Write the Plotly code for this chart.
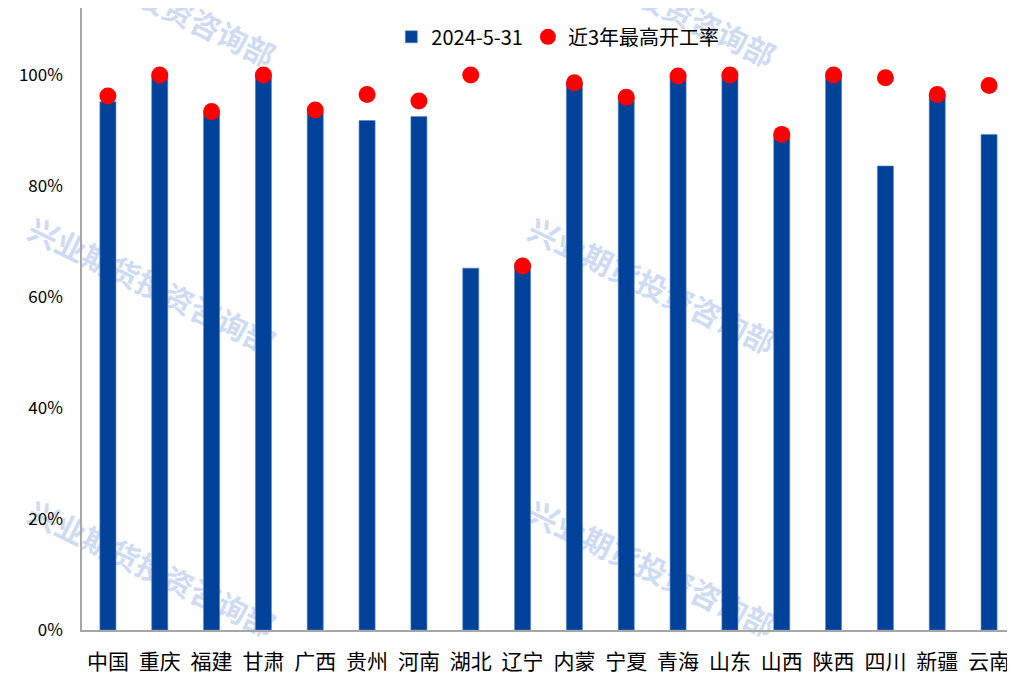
import plotly.graph_objects as go

categories = ["中国", "重庆", "福建", "甘肃", "广西", "贵州", "河南", "湖北", "辽宁",
              "内蒙", "宁夏", "青海", "山东", "山西", "陕西", "四川", "新疆", "云南"]
rate_2024_05_31 = [0.952, 1.000, 0.932, 1.000, 0.935, 0.918, 0.925, 0.652, 0.658,
                   0.985, 0.959, 0.998, 1.000, 0.892, 1.000, 0.836, 0.964, 0.893]
max_3y = [0.962, 1.000, 0.934, 1.000, 0.937, 0.965, 0.953, 1.000, 0.656,
          0.986, 0.960, 0.998, 1.000, 0.893, 1.000, 0.995, 0.965, 0.981]
y_ticks = [0, 0.2, 0.4, 0.6, 0.8, 1.0]
y_tick_labels = ["0%", "20%", "40%", "60%", "80%", "100%"]
series_names = ["2024-5-31", "近3年最高开工率"]
watermark = "兴业期货投资咨询部"
wm_x = [0.073, 0.609]
wm_y = [1.0096, 0.548, 0.093]

FONT = "Noto Sans CJK SC, Noto Sans, sans-serif"

fig = go.Figure()
fig.add_trace(go.Bar(
    x=categories, y=rate_2024_05_31, name=series_names[0],
    marker=dict(color="#00419A", line=dict(color="#5A86C8", width=0.6)),
    width=0.31,
))
fig.add_trace(go.Scatter(
    x=categories, y=max_3y, name=series_names[1], mode="markers",
    marker=dict(color="#FF0000", size=17),
))

shapes = []
for xc in wm_x:
    for yc in wm_y:
        shapes.append(dict(
            type="rect", xref="paper", yref="paper",
            x0=xc - 0.01, x1=xc + 0.01, y0=yc - 0.01, y1=yc + 0.01,
            line=dict(width=0), fillcolor="rgba(0,0,0,0)", layer="below",
            label=dict(text=watermark, textangle=26, textposition="middle center",
                       font=dict(family=FONT, size=30, color="rgba(190,208,238,0.75)",
                                 weight="bold")),
        ))

fig.update_layout(
    width=1007, height=667,
    margin=dict(l=74, r=0, t=0, b=45),
    paper_bgcolor="white", plot_bgcolor="white",
    font=dict(family=FONT, color="#000000"),
    showlegend=True,
    legend=dict(orientation="h", x=0.51, xanchor="center", y=0.985, yanchor="top",
                font=dict(size=20, family=FONT), bgcolor="rgba(0,0,0,0)",
                itemwidth=30, traceorder="normal"),
    shapes=shapes,
    bargap=0.69,
)
fig.update_xaxes(
    showline=True, linecolor="#A6A6A6", linewidth=1.5, ticks="",
    tickfont=dict(size=21, family=FONT), showgrid=False,
    range=[-0.5, len(categories) - 0.5],
    ticklabelstandoff=12, automargin=False,
)
fig.update_yaxes(
    range=[0, 1.1207], tickvals=y_ticks, ticktext=y_tick_labels,
    showline=True, linecolor="#A6A6A6", linewidth=1.5, ticks="",
    showgrid=False, zeroline=False, tickfont=dict(size=17, family=FONT),
    ticklabelstandoff=14, automargin=False,
)

fig.write_html("out.html")
